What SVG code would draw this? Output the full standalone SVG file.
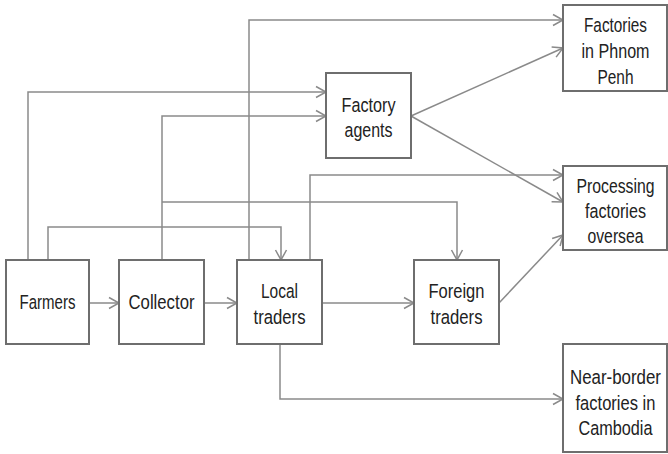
<svg xmlns="http://www.w3.org/2000/svg" width="668" height="454" viewBox="0 0 668 454">
<style>
.box{fill:#fff;stroke:#6e6e6e;stroke-width:2}
.lbl{font-family:"Liberation Sans",Arial,sans-serif;font-size:20.5px;fill:#222;text-anchor:middle}
.con path{fill:none;stroke:#8a8a8a;stroke-width:1.5}
</style>
<defs>
<marker id="ah" markerUnits="userSpaceOnUse" markerWidth="14" markerHeight="14" viewBox="0 0 14 14" refX="12" refY="7" orient="auto">
<path d="M2,1.5 L12,7 L2,12.5" fill="none" stroke="#8a8a8a" stroke-width="1.5"/>
</marker>
</defs>
<rect width="668" height="454" fill="#fff"/>
<g class="con">
<path d="M89,303 H119" marker-end="url(#ah)"/>
<path d="M204,303 H237" marker-end="url(#ah)"/>
<path d="M322,303 H414" marker-end="url(#ah)"/>
<path d="M28,260 V92 H326" marker-end="url(#ah)"/>
<path d="M162,260 V116 H326" marker-end="url(#ah)"/>
<path d="M48,260 V227 H281 V260" marker-end="url(#ah)"/>
<path d="M162,202 H457 V260" marker-end="url(#ah)"/>
<path d="M249,260 V20 H563" marker-end="url(#ah)"/>
<path d="M310,260 V175 H563" marker-end="url(#ah)"/>
<path d="M411,116 L563,48" marker-end="url(#ah)"/>
<path d="M411,116 L563,202" marker-end="url(#ah)"/>
<path d="M499,303 L563,235" marker-end="url(#ah)"/>
<path d="M280,344 V399 H563" marker-end="url(#ah)"/>
</g>
<g id="farmers">
<rect class="box" x="6" y="260" width="83" height="84"/>
<text class="lbl" x="47.5" y="309" textLength="56" lengthAdjust="spacingAndGlyphs">Farmers</text>
</g>
<g id="collector">
<rect class="box" x="119" y="260" width="85" height="84"/>
<text class="lbl" x="161.5" y="309" textLength="66" lengthAdjust="spacingAndGlyphs">Collector</text>
</g>
<g id="local-traders">
<rect class="box" x="237" y="260" width="85" height="84"/>
<text class="lbl" x="279.5" y="298" textLength="37" lengthAdjust="spacingAndGlyphs">Local</text>
<text class="lbl" x="279.5" y="324" textLength="52" lengthAdjust="spacingAndGlyphs">traders</text>
</g>
<g id="foreign-traders">
<rect class="box" x="414" y="260" width="85" height="84"/>
<text class="lbl" x="456.5" y="298" textLength="56" lengthAdjust="spacingAndGlyphs">Foreign</text>
<text class="lbl" x="456.5" y="324" textLength="52" lengthAdjust="spacingAndGlyphs">traders</text>
</g>
<g id="factory-agents">
<rect class="box" x="326" y="73" width="85" height="85"/>
<text class="lbl" x="368.5" y="112" textLength="54" lengthAdjust="spacingAndGlyphs">Factory</text>
<text class="lbl" x="368.5" y="137" textLength="48" lengthAdjust="spacingAndGlyphs">agents</text>
</g>
<g id="factories-phnom-penh">
<rect class="box" x="563" y="5" width="104" height="86"/>
<text class="lbl" x="615.5" y="32" textLength="63" lengthAdjust="spacingAndGlyphs">Factories</text>
<text class="lbl" x="615.5" y="58" textLength="68" lengthAdjust="spacingAndGlyphs">in Phnom</text>
<text class="lbl" x="615.5" y="84" textLength="36" lengthAdjust="spacingAndGlyphs">Penh</text>
</g>
<g id="processing-factories">
<rect class="box" x="563" y="166" width="104" height="84"/>
<text class="lbl" x="615.5" y="193" textLength="78" lengthAdjust="spacingAndGlyphs">Processing</text>
<text class="lbl" x="615.5" y="218" textLength="61" lengthAdjust="spacingAndGlyphs">factories</text>
<text class="lbl" x="615.5" y="243" textLength="56" lengthAdjust="spacingAndGlyphs">oversea</text>
</g>
<g id="near-border-factories">
<rect class="box" x="563" y="344" width="104" height="108"/>
<text class="lbl" x="615.5" y="384" textLength="91" lengthAdjust="spacingAndGlyphs">Near-border</text>
<text class="lbl" x="615.5" y="410" textLength="80" lengthAdjust="spacingAndGlyphs">factories in</text>
<text class="lbl" x="615.5" y="435" textLength="74" lengthAdjust="spacingAndGlyphs">Cambodia</text>
</g>
</svg>
